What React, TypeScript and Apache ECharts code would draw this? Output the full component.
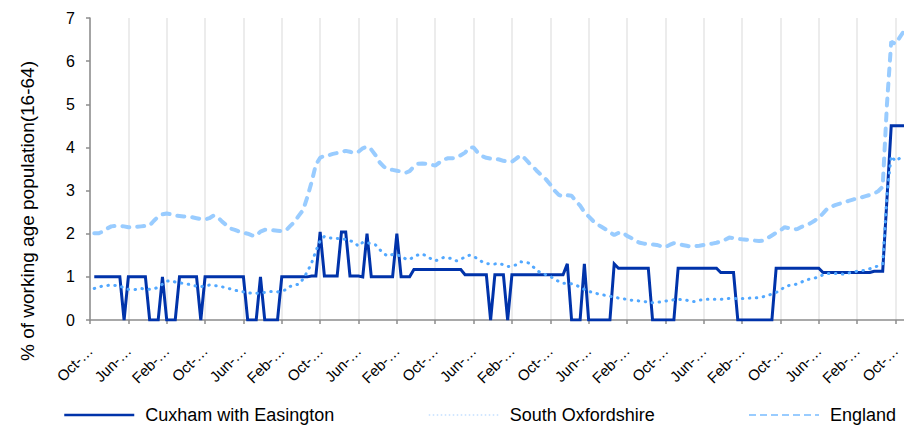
import React, { useEffect, useRef } from "react";
import * as echarts from "echarts";

const categories: string[] = Array.from({ length: 192 }, (_, i) => String(i));

const tickLabels = [
  "Oct-…", "Jun-…", "Feb-…", "Oct-…", "Jun-…", "Feb-…", "Oct-…", "Jun-…",
  "Feb-…", "Oct-…", "Jun-…", "Feb-…", "Oct-…", "Jun-…", "Feb-…", "Oct-…",
  "Jun-…", "Feb-…", "Oct-…", "Jun-…", "Feb-…", "Oct-…",
];

const cuxham = [
  null,
  1, 1, 1, 1, 1, 1, 1,
  0,
  1, 1, 1, 1, 1,
  0, 0, 0,
  1,
  0, 0, 0,
  1, 1, 1, 1, 1,
  0,
  1, 1, 1, 1, 1, 1, 1, 1, 1, 1,
  0, 0, 0,
  1,
  0, 0, 0, 0,
  1, 1, 1, 1, 1, 1, 1,
  1.02, 1.02,
  2.04,
  1.02, 1.02, 1.02, 1.02,
  2.04, 2.04,
  1.02, 1.02, 1.02,
  1,
  2,
  1, 1, 1, 1, 1, 1,
  2,
  1, 1, 1,
  1.17, 1.17, 1.17, 1.17, 1.17, 1.17, 1.17, 1.17, 1.17, 1.17, 1.17, 1.17,
  1.05, 1.05, 1.05, 1.05, 1.05, 1.05,
  0,
  1.05, 1.05, 1.05,
  0,
  1.05, 1.05, 1.05, 1.05, 1.05, 1.05, 1.05, 1.05, 1.05, 1.05, 1.05, 1.05, 1.05,
  1.3,
  0, 0, 0,
  1.3,
  0, 0, 0, 0, 0, 0,
  1.3,
  1.2, 1.2, 1.2, 1.2, 1.2, 1.2, 1.2, 1.2,
  0, 0, 0, 0, 0, 0,
  1.2, 1.2, 1.2, 1.2, 1.2, 1.2, 1.2, 1.2, 1.2, 1.2,
  1.1, 1.1, 1.1, 1.1,
  0, 0, 0, 0, 0, 0, 0, 0, 0,
  1.2, 1.2, 1.2, 1.2, 1.2, 1.2, 1.2, 1.2, 1.2, 1.2, 1.2,
  1.1, 1.1, 1.1, 1.1, 1.1, 1.1, 1.1, 1.1, 1.1, 1.1, 1.1, 1.1,
  1.13, 1.13, 1.13,
  2.8,
  4.5, 4.5, 4.5, 4.5,
];

const southOxfordshire = [
  null,
  0.73, 0.76, 0.79, 0.8, 0.81, 0.8, 0.79, 0.74, 0.71, 0.7,
  0.71, 0.73, 0.72, 0.71, 0.72, 0.76, 0.83, 0.9, 0.91, 0.88,
  0.86, 0.85, 0.83, 0.81, 0.78, 0.77, 0.79, 0.81, 0.8, 0.79,
  0.77, 0.74, 0.72, 0.69, 0.67, 0.65, 0.63, 0.62, 0.62, 0.63,
  0.64, 0.66, 0.66, 0.65, 0.68, 0.7, 0.78, 0.81, 0.83, 0.95,
  1.12, 1.32, 1.6, 1.84, 1.94, 1.91, 1.89, 1.89, 1.88, 1.87,
  1.84, 1.8, 1.71, 1.8, 1.79, 1.77, 1.74, 1.63, 1.53, 1.48,
  1.52, 1.52, 1.47, 1.42, 1.4, 1.47, 1.51, 1.53, 1.48, 1.42,
  1.37, 1.41, 1.45, 1.44, 1.42, 1.37, 1.41, 1.46, 1.5, 1.48,
  1.41, 1.35, 1.31, 1.3, 1.3, 1.31, 1.28, 1.24, 1.25, 1.28,
  1.35, 1.34, 1.32, 1.23, 1.14, 1.08, 1.05, 1.01, 0.95, 0.89,
  0.85, 0.85, 0.84, 0.81, 0.76, 0.71, 0.67, 0.63, 0.61, 0.59,
  0.57, 0.55, 0.53, 0.51, 0.5, 0.47, 0.46, 0.45, 0.44, 0.43,
  0.41, 0.4, 0.41, 0.42, 0.44, 0.45, 0.47, 0.48, 0.47, 0.46,
  0.43, 0.43, 0.46, 0.47, 0.48, 0.48, 0.48, 0.48, 0.49, 0.5,
  0.5, 0.5, 0.5, 0.5, 0.51, 0.51, 0.52, 0.54, 0.57, 0.6,
  0.64, 0.69, 0.77, 0.8, 0.81, 0.84, 0.88, 0.93, 0.95, 0.97,
  1.0, 1.05, 1.08, 1.08, 1.08, 1.07, 1.06, 1.09, 1.11, 1.13,
  1.14, 1.16, 1.19, 1.23, 1.25, 1.3, 2.9, 3.8, 3.68, 3.75, 3.8,
];

const england = [
  null,
  2.01, 2.01, 2.05, 2.12, 2.17, 2.18, 2.18, 2.17, 2.15, 2.14,
  2.16, 2.17, 2.18, 2.19, 2.3, 2.4, 2.45, 2.47, 2.45, 2.42,
  2.41, 2.4, 2.39, 2.38, 2.36, 2.34, 2.33, 2.36, 2.42, 2.38,
  2.28, 2.2, 2.12, 2.09, 2.05, 2.02, 2.0, 1.96, 1.95, 2.05,
  2.09, 2.09, 2.08, 2.07, 2.06, 2.08, 2.18, 2.28, 2.42, 2.55,
  2.85, 3.2, 3.6, 3.76, 3.81, 3.82, 3.85, 3.87, 3.89, 3.92,
  3.9, 3.87, 3.9, 3.98, 4.02, 3.95, 3.82, 3.65, 3.55, 3.49,
  3.48, 3.46, 3.44, 3.41, 3.45, 3.56, 3.62, 3.63, 3.62, 3.6,
  3.58, 3.65, 3.72, 3.75, 3.75, 3.76, 3.82, 3.88, 4.0, 4.0,
  3.88, 3.8, 3.76, 3.74, 3.74, 3.72, 3.69, 3.67, 3.67, 3.74,
  3.82, 3.75, 3.64, 3.55, 3.44, 3.35, 3.26, 3.14, 3.0, 2.9,
  2.86, 2.89, 2.88, 2.76, 2.65, 2.5, 2.4, 2.3, 2.22, 2.16,
  2.1, 2.03, 1.97, 2.02, 2.03, 1.95, 1.9, 1.83, 1.79, 1.77,
  1.76, 1.75, 1.74, 1.71, 1.69, 1.74, 1.78, 1.76, 1.74, 1.72,
  1.7, 1.71, 1.72, 1.74, 1.76, 1.77, 1.79, 1.82, 1.86, 1.91,
  1.9, 1.88, 1.87, 1.86, 1.85, 1.84, 1.83, 1.84, 1.9, 1.96,
  2.02, 2.08, 2.15, 2.13, 2.1, 2.11, 2.16, 2.2, 2.24, 2.3,
  2.37, 2.47, 2.58, 2.63, 2.67, 2.7, 2.73, 2.76, 2.79, 2.82,
  2.84, 2.87, 2.9, 2.93, 2.99, 3.09, 5.0, 6.45, 6.4, 6.55, 6.7,
];

const seriesNames = ["Cuxham with Easington", "South Oxfordshire", "England"];
const yAxisTitle = "% of working age population(16-64)";

const FONT = "'Liberation Sans', Arial, sans-serif";

export default function App() {
  const ref = useRef<HTMLDivElement>(null);
  useEffect(() => {
    const chart = echarts.init(ref.current!, null, { renderer: "svg" });
    const legendBase = {
      top: 406,
      padding: 0,
      itemWidth: 70,
      itemHeight: 18,
      textStyle: { fontSize: 18, color: "#000", fontFamily: FONT, padding: [0, 0, 0, 6] },
    };
    chart.setOption({
      animation: false,
      backgroundColor: "#fff",
      grid: { left: 90, top: 18, width: 815, height: 302, containLabel: false },
      graphic: [
        {
          type: "text",
          x: 27,
          y: 211,
          rotation: Math.PI / 2,
          style: {
            text: yAxisTitle,
            fontSize: 19,
            fontFamily: FONT,
            fill: "#000",
            align: "center",
            verticalAlign: "middle",
          },
        },
      ],
      legend: [
        {
          ...legendBase,
          left: 63,
          data: [{ name: seriesNames[0], itemStyle: { opacity: 0 }, lineStyle: { width: 2.5 } }],
        },
        {
          ...legendBase,
          left: 428,
          data: [
            {
              name: seriesNames[1],
              itemStyle: { opacity: 0 },
              lineStyle: { width: 1.5, color: "#c4e0ff", type: [1.5, 2.5], cap: "butt" },
            },
          ],
        },
        {
          ...legendBase,
          left: 748,
          data: [
            {
              name: seriesNames[2],
              itemStyle: { opacity: 0 },
              lineStyle: { width: 2, color: "#99CCFF", type: [7, 4], cap: "butt" },
            },
          ],
        },
      ],
      xAxis: {
        type: "category",
        data: categories,
        boundaryGap: false,
        axisLine: { lineStyle: { color: "#8c8c8c", width: 1.5 } },
        axisTick: { show: true, interval: 8, length: 4, lineStyle: { color: "#8c8c8c", width: 1.5 } },
        axisLabel: {
          interval: 8,
          rotate: 45,
          margin: 28,
          fontSize: 15,
          color: "#000",
          fontFamily: FONT,
          formatter: (_v: string, idx: number) => tickLabels[Math.round(idx / 9)] ?? "",
        },
        splitLine: { show: true, interval: 8, lineStyle: { color: "#e6e6e6", width: 1.5 } },
      },
      yAxis: {
        type: "value",
        min: 0,
        max: 7,
        interval: 1,
        axisLine: { show: true, lineStyle: { color: "#8c8c8c", width: 1.5 } },
        axisTick: { show: true, length: 4, lineStyle: { color: "#8c8c8c", width: 1.5 } },
        axisLabel: { fontSize: 16, color: "#000", margin: 15, fontFamily: FONT },
        splitLine: { show: false },
      },
      series: [
        {
          name: seriesNames[0],
          type: "line",
          data: cuxham,
          symbol: "none",
          color: "#0033AA",
          lineStyle: { color: "#0033AA", width: 3, join: "miter" },
        },
        {
          name: seriesNames[1],
          type: "line",
          data: southOxfordshire,
          symbol: "none",
          color: "#52A8FF",
          lineStyle: { color: "#52A8FF", width: 3, type: [0.5, 6.5], cap: "round" },
        },
        {
          name: seriesNames[2],
          type: "line",
          data: england,
          symbol: "none",
          color: "#99CCFF",
          lineStyle: { color: "#99CCFF", width: 4, type: [7, 8], cap: "round" },
        },
      ],
    });
    return () => chart.dispose();
  }, []);
  return (
    <div
      ref={ref}
      style={{ position: "fixed", left: 0, top: 0, width: 904, height: 425, background: "#fff" }}
    />
  );
}
